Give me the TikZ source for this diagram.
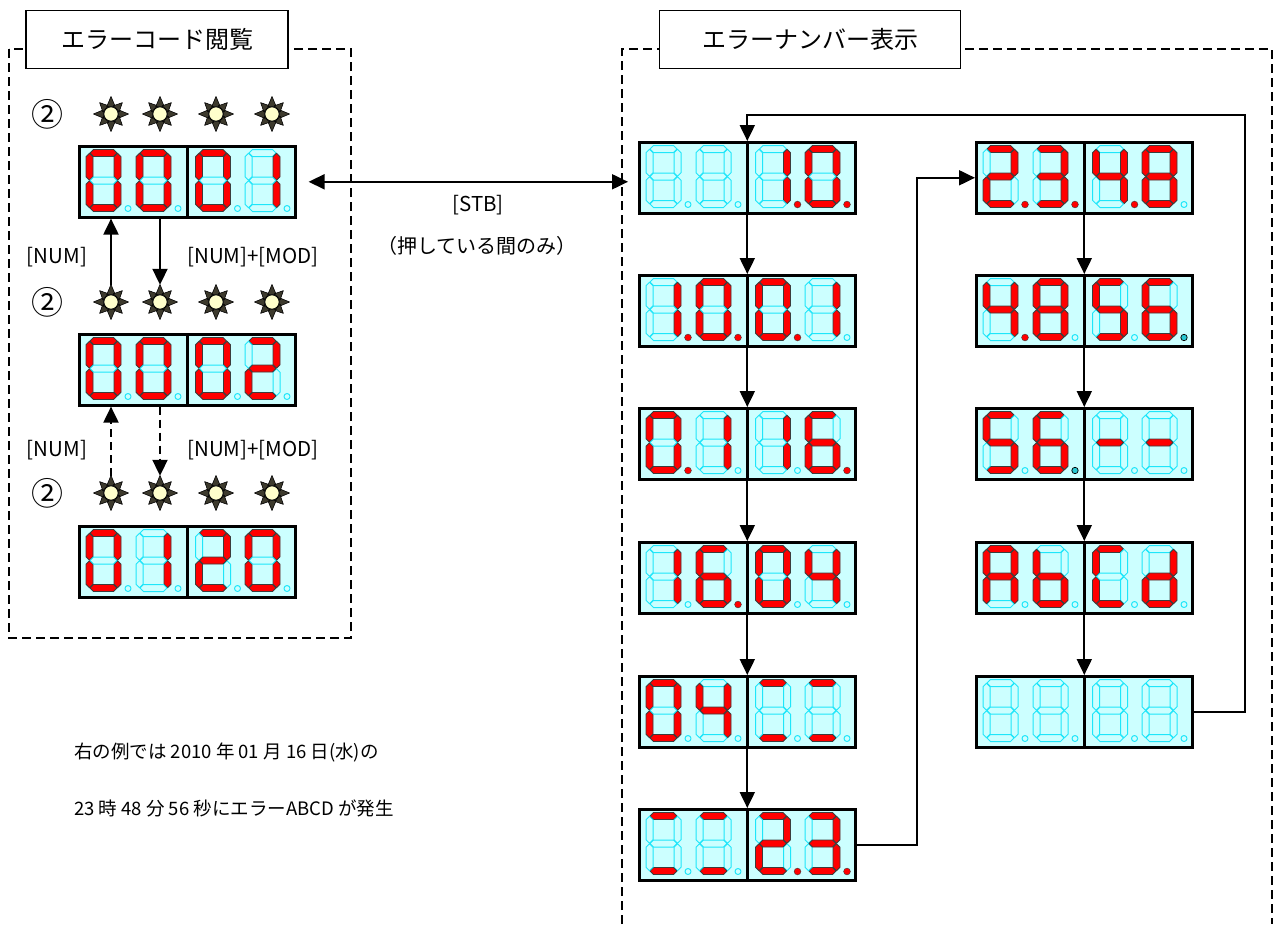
\documentclass[tikz,border=0pt]{standalone}
\usepackage{fontspec}
\setmainfont{Noto Sans CJK JP}
\usetikzlibrary{arrows.meta}
\definecolor{dispbg}{RGB}{204,255,255}
\definecolor{segoffc}{RGB}{30,230,250}
\definecolor{segonc}{RGB}{255,0,0}
\definecolor{segedge}{RGB}{60,60,60}
\definecolor{sunfill}{RGB}{255,255,204}
\definecolor{dpcy}{RGB}{40,200,210}
\tikzset{
  segon/.style={fill=segonc, draw=segedge, line width=0.8pt, line join=round},
  segoff/.style={draw=segoffc, line width=1pt, line join=round},
  dispbox/.style={draw=black, line width=2.6pt, fill=dispbg, minimum width=216pt, minimum height=71pt, inner sep=0pt, anchor=north west},
  arr/.style={line width=2pt, -{Triangle[width=15pt,length=16pt]}},
  darr/.style={arr, dash pattern=on 8pt off 5pt},
  biarr/.style={line width=2pt, {Triangle[width=15pt,length=16pt]}-{Triangle[width=15pt,length=16pt]}},
  frame/.style={line width=1.3pt, dash pattern=on 9pt off 5pt},
  titlebox/.style={draw, line width=1.4pt, fill=white, minimum height=58pt, inner sep=0pt, font=\fontsize{24}{28}\selectfont},
  lbl/.style={font=\fontsize{20.5}{24}\selectfont, inner sep=0pt},
  circ/.style={font=\fontsize{32}{34}\selectfont, inner sep=0pt},
  sunspot/.style={circle, minimum size=34pt, inner sep=0pt},
  note/.style={anchor=west, font=\fontsize{18.5}{22}\selectfont, inner sep=0pt},
}
\def\Dz{1111110}
\def\Do{0110000}
\def\Dt{1101101}
\def\Dth{1111001}
\def\Df{0110011}
\def\Dfi{1011011}
\def\Ds{1011111}
\def\De{1111111}
\def\DA{1110111}
\def\Db{0011111}
\def\DC{1001110}
\def\Dd{0111101}
\def\Dm{0000001}
\def\Dn{0000000}
\def\Dad{1001000}
\newcommand\mysegH[3]{\if#11\tikzset{segcur/.style={segon}}\else\tikzset{segcur/.style={segoff}}\fi
  \draw[segcur] (#2-13.5,#3) -- ++(3.5,-3.5) -- ++(20,0) -- ++(3.5,3.5) -- ++(-3.5,3.5) -- ++(-20,0) -- cycle;}
\newcommand\mysegV[3]{\if#11\tikzset{segcur/.style={segon}}\else\tikzset{segcur/.style={segoff}}\fi
  \draw[segcur] (#2,#3-13.5) -- ++(3.5,3.5) -- ++(0,20) -- ++(-3.5,3.5) -- ++(-3.5,-3.5) -- ++(0,-20) -- cycle;}
\newcommand\mysegs[7]{\mysegH{#1}{17.5}{3.5}\mysegV{#2}{31.5}{17.25}\mysegV{#3}{31.5}{44.75}\mysegH{#4}{17.5}{58.5}\mysegV{#5}{3.5}{44.75}\mysegV{#6}{3.5}{17.25}\mysegH{#7}{17.5}{31}}
\newcommand\mydp[1]{\ifcase#1 \draw[segoff] (42,59) circle (3);\or \draw[fill=segonc, draw=segedge, line width=0.4pt] (42,59) circle (3.4);\or \draw[fill=dpcy, draw=black, line width=0.7pt] (42,59) circle (3.2);\fi}
\newcommand\mydigit[4]{\begin{scope}[shift={(#1,#2)}]\expandafter\mysegs#3\mydp{#4}\end{scope}}
\newcommand\mydispdigits[8]{\mydigit{\dX+8}{\dY+4.5}{#1}{#2}\mydigit{\dX+58}{\dY+4.5}{#3}{#4}\mydigit{\dX+117.5}{\dY+4.5}{#5}{#6}\mydigit{\dX+167}{\dY+4.5}{#7}{#8}}
\newcommand\mydisp[4]{\node[dispbox] (#1) at (#2,#3) {};
  \def\dX{#2}\def\dY{#3}\mydispdigits#4
  \draw[line width=2.6pt] (#1.north) -- (#1.south);}
\newcommand\mysun[3]{\node[sunspot] (#1) at (#2,#3) {};
  \foreach \a/\r in {0/17.5,45/16,90/17.5,135/16,180/17.5,225/16,270/17.5,315/16}
    \filldraw[fill=black!75!olive, draw=black, line width=0.6pt, line join=round, shift={(#1.center)}] (\a-30:8.5) -- (\a:\r) -- (\a+30:8.5) -- cycle;
  \draw[fill=sunfill, line width=0.9pt] (#1.center) circle (7.2);}
\begin{document}
\begin{tikzpicture}[x=1pt,y=-1pt]
\useasboundingbox (0,0) rectangle (1274,924);
% frames
\draw[frame] (9,49) rectangle (351,638);
\draw[frame] (622,924) -- (622,49) -- (1272,49) -- (1272,924);
\node[titlebox, minimum width=262pt] (T1) at (157,39.5) {エラーコード閲覧};
\node[titlebox, minimum width=301pt] (T2) at (810,39.5) {エラーナンバー表示};
% left displays
\mydisp{L1}{78}{145}{{\Dz}{0}{\Dz}{0}{\Dz}{0}{\Do}{0}}
\mydisp{L2}{78}{333}{{\Dz}{0}{\Dz}{0}{\Dz}{0}{\Dt}{0}}
\mydisp{L3}{78}{525}{{\Dz}{0}{\Do}{0}{\Dt}{0}{\Dz}{0}}
% right displays
\mydisp{R1}{638}{141}{{\Dn}{0}{\Dn}{0}{\Do}{1}{\Dz}{1}}
\mydisp{R2}{638}{274}{{\Do}{1}{\Dz}{1}{\Dz}{1}{\Do}{0}}
\mydisp{R3}{638}{407}{{\Dz}{1}{\Do}{0}{\Do}{0}{\Ds}{1}}
\mydisp{R4}{638}{541}{{\Do}{0}{\Ds}{1}{\Dz}{0}{\Df}{0}}
\mydisp{R5}{638}{675}{{\Dz}{0}{\Df}{0}{\Dad}{0}{\Dad}{0}}
\mydisp{R6}{638}{808}{{\Dad}{0}{\Dad}{0}{\Dt}{1}{\Dth}{1}}
\mydisp{C1}{975}{141}{{\Dt}{1}{\Dth}{1}{\Df}{1}{\De}{0}}
\mydisp{C2}{975}{274}{{\Df}{1}{\De}{0}{\Dfi}{0}{\Ds}{2}}
\mydisp{C3}{975}{407}{{\Dfi}{0}{\Ds}{2}{\Dm}{0}{\Dm}{0}}
\mydisp{C4}{975}{541}{{\DA}{0}{\Db}{0}{\DC}{0}{\Dd}{0}}
\mydisp{C5}{975}{675}{{\Dn}{0}{\Dn}{0}{\Dn}{0}{\Dn}{0}}
% suns
\mysun{s11}{111}{114}\mysun{s12}{160}{114}\mysun{s13}{216}{114}\mysun{s14}{272}{114}
\mysun{s21}{111}{302}\mysun{s22}{160}{302}\mysun{s23}{216}{302}\mysun{s24}{272}{302}
\mysun{s31}{111}{493}\mysun{s32}{160}{493}\mysun{s33}{216}{493}\mysun{s34}{272}{493}
\node[circ] (c1) at (47,114) {②};
\node[circ] (c2) at (47,302) {②};
\node[circ] (c3) at (47,493) {②};
% left arrows
\draw[arr] (s21.north) -- (s21.north |- L1.south);
\draw[arr] (L1.south -| s22.north) -- (s22.north);
\draw[darr] (s31.north) -- (s31.north |- L2.south);
\draw[darr] (L2.south -| s32.north) -- (s32.north);
\node[lbl] (n1) at (57,257) {[NUM]};
\node[lbl] (n2) at (253,257) {[NUM]+[MOD]};
\node[lbl] (n3) at (57,450) {[NUM]};
\node[lbl] (n4) at (253,450) {[NUM]+[MOD]};
% STB
\draw[biarr, shorten <=12pt, shorten >=10pt] (L1.east) -- (L1.east -| R1.west);
\node[lbl] (stb) at (478,205) {[STB]};
\node[font=\fontsize{20}{22}\selectfont, inner sep=0pt] (stb2) at (477,246) {（押している間のみ）};
% right column arrows
\draw[arr] (R1.south) -- (R2.north);
\draw[arr] (R2.south) -- (R3.north);
\draw[arr] (R3.south) -- (R4.north);
\draw[arr] (R4.south) -- (R5.north);
\draw[arr] (R5.south) -- (R6.north);
\draw[arr] (C1.south) -- (C2.north);
\draw[arr] (C2.south) -- (C3.north);
\draw[arr] (C3.south) -- (C4.north);
\draw[arr] (C4.south) -- (C5.north);
\coordinate (tr) at (1245,115);
\coordinate (mid) at (917,500);
\draw[arr] (C5.east) -| (tr) -| (R1.north);
\draw[arr] (R6.east) -| (mid) |- (C1.west);
% bottom text
\node[note] (t1) at (74,752) {右の例では 2010 年 01 月 16 日(水)の};
\node[note] (t2) at (74,808) {23 時 48 分 56 秒にエラーABCD が発生};
\end{tikzpicture}
\end{document}
